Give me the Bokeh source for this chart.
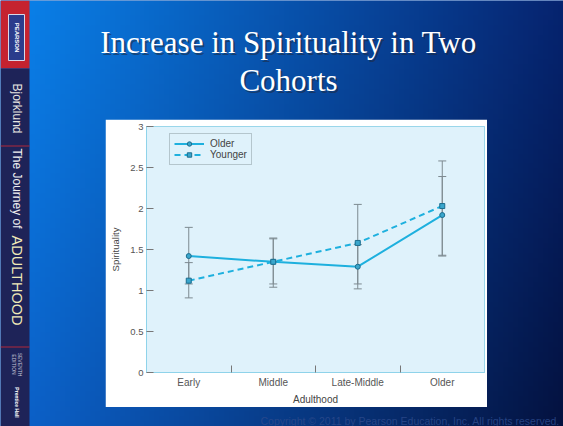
import numpy as np
import math
from bokeh.plotting import figure
from bokeh.models import (Range1d, FixedTicker, ColumnDataSource, Whisker, TeeHead,
                          Legend, LegendItem, CustomJSTickFormatter)
from bokeh.core.properties import value
from bokeh.embed import file_html
from bokeh.resources import INLINE

# ---------------- data ----------------
categories = ["Early", "Middle", "Late-Middle", "Older"]
older_mean = [1.42, 1.35, 1.29, 1.92]
older_lo = [1.08, 1.08, 1.02, 1.43]
older_hi = [1.77, 1.63, 1.56, 2.39]
younger_mean = [1.12, 1.35, 1.58, 2.03]
younger_lo = [0.91, 1.04, 1.08, 1.42]
younger_hi = [1.34, 1.64, 2.05, 2.58]
y_ticks = [0, 0.5, 1, 1.5, 2, 2.5, 3]
title_lines = ["Increase in Spirituality in Two", "Cohorts"]
copyright_text = "Copyright \u00a9 2011 by Pearson Education, Inc. All rights reserved."

xpos = [i + 1 for i in range(len(categories))]

W, H = 563, 426

# ---------------- background slide ----------------
bg = figure(width=W, height=H, x_range=Range1d(0, W), y_range=Range1d(0, H),
            output_backend="svg", toolbar_location=None, min_border=0,
            x_axis_type=None, y_axis_type=None)
bg.styles = {"position": "absolute", "left": "0px", "top": "0px"}
bg.grid.visible = False
bg.outline_line_color = None
bg.background_fill_color = "#0a4fb0"
bg.border_fill_color = "#0a4fb0"

def Y(v):
    return H - v

# diagonal blue gradient (styling only)
gw, gh = 113, 86
xs = np.linspace(0, 1, gw)[None, :]
ys = np.linspace(0, 1, gh)[:, None]  # 0 = bottom row
tl = np.array([10, 132, 238]); tr = np.array([6, 36, 112])
bl = np.array([12, 100, 206]); br = np.array([4, 18, 64])
top = tl[None, None, :] * (1 - xs[..., None]) + tr[None, None, :] * xs[..., None]
bot = bl[None, None, :] * (1 - xs[..., None]) + br[None, None, :] * xs[..., None]
col = bot * (1 - ys[..., None]) + top * ys[..., None]
img = np.zeros((gh, gw), dtype=np.uint32)
view = img.view(dtype=np.uint8).reshape((gh, gw, 4))
view[..., 0] = col[..., 0].astype(np.uint8)
view[..., 1] = col[..., 1].astype(np.uint8)
view[..., 2] = col[..., 2].astype(np.uint8)
view[..., 3] = 255
bg.image_rgba(image=[img], x=0, y=0, dw=W, dh=H)

# left strip
bg.quad(left=[0], right=[29], top=[Y(0)], bottom=[Y(68)], fill_color="#c5232f", line_color=None)
bg.quad(left=[0], right=[29], top=[Y(68)], bottom=[Y(H)], fill_color="#1e2358", line_color=None)
bg.quad(left=[0, 0], right=[29, 29], top=[Y(145), Y(346)], bottom=[Y(146), Y(347)],
        fill_color="#b0283a", line_color=None)
bg.quad(left=[8], right=[24], top=[Y(14)], bottom=[Y(60)], fill_color="#2b3c8c",
        line_color="#d8d8e8", line_width=1)
rot = -math.pi / 2
strip = [
    (16, 37, "PEARSON", "6px", "bold", "#ffffff"),
    (16, 108, "Bjorklund", "12px", "normal", "#e8e6e0"),
    (16, 188, "The Journey of", "12px", "normal", "#f0f0f0"),
    (16, 280, "ADULTHOOD", "14.5px", "normal", "#f1ebb8"),
    (19, 364, "SEVENTH", "5px", "normal", "#c8c8d8"),
    (13, 364, "EDITION", "5px", "normal", "#c8c8d8"),
    (16, 402, "Prentice Hall", "5px", "bold", "#ffffff"),
]
for x, y, t, fs, st, c in strip:
    bg.text(x=[x], y=[Y(y)], text=[t], angle=rot, text_align="center", text_baseline="middle",
            text_font=value("Liberation Sans"), text_font_size=fs, text_font_style=st,
            text_color=c)

# title with shadow
for i, t in enumerate(title_lines):
    yy = 41.5 + 38 * i
    bg.text(x=[290], y=[Y(yy + 2)], text=[t], text_align="center", text_baseline="middle",
            text_font=value("Liberation Serif"), text_font_size="31px",
            text_color="#202838", text_alpha=0.55)
    bg.text(x=[288], y=[Y(yy)], text=[t], text_align="center", text_baseline="middle",
            text_font=value("Liberation Serif"), text_font_size="31px", text_color="#ffffff")

bg.text(x=[260], y=[Y(420)], text=[copyright_text], text_align="left", text_baseline="middle",
        text_font=value("Liberation Sans"), text_font_size="10.5px", text_color="#2c4a8c",
        text_alpha=0.85)

# ---------------- chart ----------------
PX, PY, PW, PH = 105, 119, 382, 288  # white panel
p = figure(width=PW, height=PH, x_range=Range1d(0.5, len(categories) + 0.5),
           y_range=Range1d(0, 3), output_backend="svg", toolbar_location=None,
           min_border_left=146 - PX, min_border_right=PX + PW - 484,
           min_border_top=126 - PY, min_border_bottom=PY + PH - 375)
p.styles = {"position": "absolute", "left": f"{PX}px", "top": f"{PY}px"}
p.border_fill_color = "#ffffff"
p.background_fill_color = "#dff2fb"
p.outline_line_color = "#9ad6ea"
p.grid.visible = False

for lo, hi in [(older_lo, older_hi), (younger_lo, younger_hi)]:
    src = ColumnDataSource(dict(x=xpos, lo=lo, hi=hi))
    p.add_layout(Whisker(base="x", lower="lo", upper="hi", source=src, line_color="#7d8a90",
                         line_width=1, level="underlay",
                         upper_head=TeeHead(size=8, line_color="#7d8a90", line_width=1),
                         lower_head=TeeHead(size=8, line_color="#7d8a90", line_width=1)))

line_color = "#1eb0de"
l1 = p.line(xpos, older_mean, line_color=line_color, line_width=2)
s1 = p.scatter(xpos, older_mean, marker="circle", size=5, fill_color="#3aa6cc",
               line_color="#1b6d8e", line_width=1)
l2 = p.line(xpos, younger_mean, line_color=line_color, line_width=2, line_dash="6 4")
s2 = p.scatter(xpos, younger_mean, marker="square", size=5, fill_color="#3aa6cc",
               line_color="#1b6d8e", line_width=1)

legend = Legend(items=[LegendItem(label="Older", renderers=[l1, s1]),
                       LegendItem(label="Younger", renderers=[l2, s2])],
                location=(23, 207), label_text_font="Liberation Sans",
                label_text_font_size="10px", label_text_color="#444444",
                glyph_width=30, glyph_height=11, label_height=11, spacing=0,
                padding=4, margin=0, label_standoff=6,
                border_line_color="#8a9aa0", background_fill_color="#dff2fb",
                background_fill_alpha=1)
p.add_layout(legend, "center")

ya = p.yaxis[0]
ya.ticker = FixedTicker(ticks=y_ticks, minor_ticks=[])
ya.formatter = CustomJSTickFormatter(code="return tick.toString();")
ya.major_tick_in = 7
ya.major_tick_out = 0
ya.major_tick_line_color = "#777777"
ya.axis_line_color = "#8fd3ea"
ya.major_label_standoff = 3
ya.major_label_text_font = "Liberation Sans"
ya.major_label_text_font_size = "9.5px"
ya.major_label_text_color = "#555555"
ya.axis_label = "Spirituality"
ya.axis_label_text_font = "Liberation Sans"
ya.axis_label_text_font_size = "9.5px"
ya.axis_label_text_font_style = "normal"
ya.axis_label_text_color = "#444444"
ya.axis_label_standoff = 6

xa = p.xaxis[0]
xa.ticker = FixedTicker(ticks=xpos, minor_ticks=[x + 0.5 for x in xpos[:-1]])
xa.major_label_overrides = {x: c for x, c in zip(xpos, categories)}
xa.major_tick_line_color = None
xa.major_tick_in = 0
xa.major_tick_out = 0
xa.minor_tick_in = 7
xa.minor_tick_out = 0
xa.minor_tick_line_color = "#777777"
xa.axis_line_color = "#8fd3ea"
xa.major_label_standoff = 4
xa.major_label_text_font = "Liberation Sans"
xa.major_label_text_font_size = "10px"
xa.major_label_text_color = "#555555"
xa.axis_label = "Adulthood"
xa.axis_label_text_font = "Liberation Sans"
xa.axis_label_text_font_size = "10px"
xa.axis_label_text_font_style = "normal"
xa.axis_label_text_color = "#444444"
xa.axis_label_standoff = 3

open("out.html", "w").write(file_html([bg, p], INLINE))
